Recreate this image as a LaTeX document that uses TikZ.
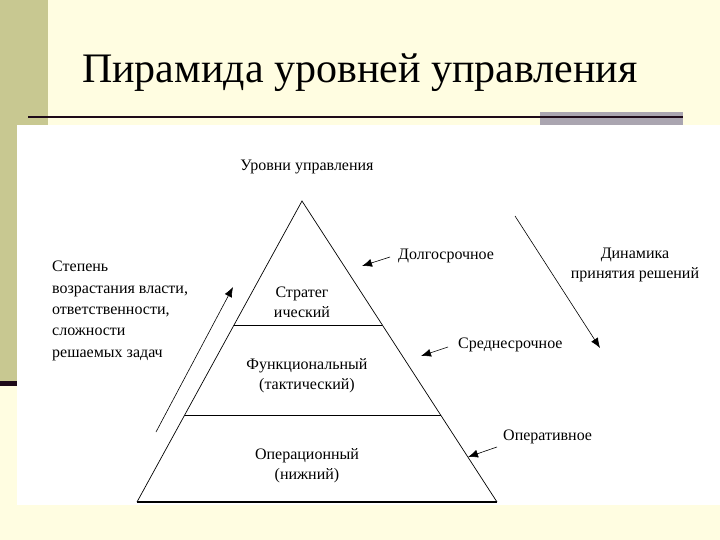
\documentclass[tikz,border=0pt]{standalone}
\usepackage{fontspec}
\setmainfont{Liberation Serif}
\usetikzlibrary{arrows.meta,calc}
\definecolor{cream}{RGB}{255,253,225}
\definecolor{olive}{RGB}{200,200,145}
\definecolor{barGray}{RGB}{170,165,176}
\definecolor{darkLine}{RGB}{30,10,25}
\begin{document}
\begin{tikzpicture}[x=1pt,y=-1pt,
  lbl/.style={font=\fontsize{16}{20}\selectfont, inner sep=0pt, align=center},
  arr/.style={-{Latex[length=10pt,width=8pt]}, line width=0.6pt}]
  \useasboundingbox (0,0) rectangle (720,540);
  % slide background
  \fill[cream] (0,0) rectangle (720,540);
  \fill[olive] (0,0) rectangle (48,383);
  \fill[darkLine] (0,381) rectangle (17,386);
  \fill[white] (17,125) rectangle (720,505);
  \fill[barGray] (540,112) rectangle (683,125);
  \draw[darkLine, line width=2.5pt] (28,117) -- (683,117);
  \node[anchor=base west, inner sep=0pt, font=\fontsize{42}{50}\selectfont] (title) at (82,83) {Пирамида уровней управления};
  % pyramid
  \coordinate (apex) at (302,201);
  \coordinate (bl) at (137,502);
  \coordinate (br) at (497,502);
  \draw[line width=0.7pt] (bl) -- (apex) -- (br);
  \draw[line width=2.2pt] (bl) -- (br);
  \draw[line width=0.8pt] ($(apex)!0.412!(bl)$) -- ($(apex)!0.412!(br)$);
  \draw[line width=0.8pt] ($(apex)!0.711!(bl)$) -- ($(apex)!0.711!(br)$);
  \node[lbl] (levels) at (307,167) {Уровни управления};
  \node[lbl] (strat) at (302,302) {Стратег\\ический};
  \node[lbl] (func) at (307,376) {Функциональный\\(тактический)};
  \node[lbl] (oper) at (307,466) {Операционный\\(нижний)};
  % left side
  \node[lbl, font=\fontsize{16}{21.3}\selectfont, align=left, anchor=west] (degree) at (52,311) {Степень\\возрастания власти,\\ответственности,\\сложности\\решаемых задач};
  \coordinate (upS) at (156,432);
  \coordinate (upE) at (233,287);
  \draw[arr] (upS) -- (upE);
  % right side
  \node[lbl, anchor=west] (dolg) at (398,256) {Долгосрочное};
  \node[lbl, anchor=west] (sred) at (458,345) {Среднесрочное};
  \node[lbl, anchor=west] (operat) at (503,437) {Оперативное};
  \coordinate (dolgT) at (362,266);
  \coordinate (sredT) at (421,356);
  \coordinate (operS) at (497,447);
  \coordinate (operT) at (468,457);
  \draw[arr] ([xshift=-8pt,yshift=-1pt]dolg.west) -- (dolgT);
  \draw[arr] ([xshift=-10pt,yshift=-2pt]sred.west) -- (sredT);
  \draw[arr] (operS) -- (operT);
  \node[lbl] (dyn) at (635,265) {Динамика\\принятия решений};
  \coordinate (dynS) at (515,216);
  \coordinate (dynE) at (600,348);
  \draw[arr] (dynS) -- (dynE);
\end{tikzpicture}
\end{document}
